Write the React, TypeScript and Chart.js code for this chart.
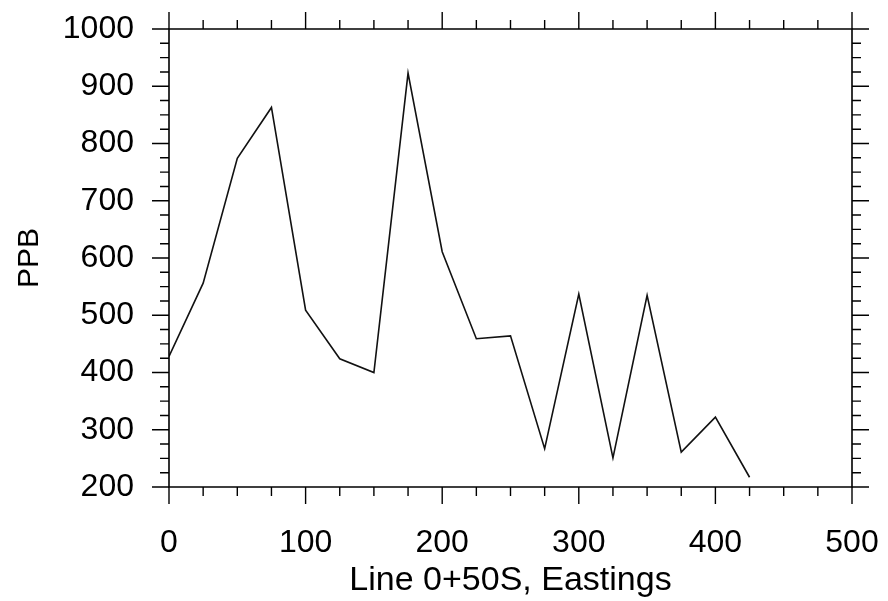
import React, { useEffect, useRef } from "react";
import { Chart, registerables } from "chart.js";

Chart.register(...registerables);

const eastings: number[] = [0, 25, 50, 75, 100, 125, 150, 175, 200, 225, 250, 275, 300, 325, 350, 375, 400, 425];
const ppb: number[] = [428, 556, 774, 863, 509, 424, 400, 923, 611, 459, 464, 267, 537, 251, 535, 261, 322, 217];

const xTitle = "Line 0+50S, Eastings";
const yTitle = "PPB";
const xMin = 0;
const xMax = 500;
const xMajor = 100;
const yMin = 200;
const yMax = 1000;
const yMajor = 100;
const minorStep = 25;

const FONT = "'Liberation Sans', Arial, Helvetica, sans-serif";

const frameTicks = {
  id: "frameTicks",
  afterDraw(chart: any) {
    const { ctx, chartArea } = chart;
    const xs = chart.scales.x;
    const ys = chart.scales.y;
    const { left, right, top, bottom } = chartArea;
    ctx.save();
    ctx.strokeStyle = "#000";
    ctx.lineWidth = 1.6;
    ctx.lineCap = "butt";
    ctx.beginPath();
    ctx.rect(left, top, right - left, bottom - top);
    ctx.stroke();
    ctx.lineWidth = 1.4;
    ctx.beginPath();
    for (let v = xMin; v <= xMax + 1e-9; v += minorStep) {
      const px = xs.getPixelForValue(v);
      const len = v % xMajor === 0 ? 17 : 9;
      ctx.moveTo(px, bottom);
      ctx.lineTo(px, bottom + len);
      ctx.moveTo(px, top);
      ctx.lineTo(px, top - len);
    }
    for (let v = yMin; v <= yMax + 1e-9; v += minorStep) {
      const py = ys.getPixelForValue(v);
      const len = v % yMajor === 0 ? 17 : 9;
      ctx.moveTo(left, py);
      ctx.lineTo(left - len, py);
      ctx.moveTo(right, py);
      ctx.lineTo(right + len, py);
    }
    ctx.stroke();
    ctx.restore();
  },
};

export default function App() {
  const ref = useRef<HTMLCanvasElement | null>(null);

  useEffect(() => {
    if (!ref.current) return;
    const data = eastings.map((e, i) => ({ x: e, y: ppb[i] }));
    const chart = new Chart(ref.current, {
      type: "line",
      data: {
        datasets: [
          {
            data,
            borderColor: "#111",
            borderWidth: 1.6,
            pointRadius: 0,
            tension: 0,
            fill: false,
          },
        ],
      },
      options: {
        responsive: false,
        devicePixelRatio: 1,
        animation: false,
        layout: { padding: { left: 0, right: 36, top: 29, bottom: 0 } },
        plugins: {
          legend: { display: false },
          tooltip: { enabled: false },
        },
        scales: {
          x: {
            type: "linear",
            min: xMin,
            max: xMax,
            grid: { display: false },
            border: { display: false },
            afterFit: (s: any) => {
              s.height = 114;
              s.paddingLeft = 0;
              s.paddingRight = 0;
            },
            ticks: {
              stepSize: xMajor,
              color: "#000",
              padding: 29,
              maxRotation: 0,
              font: { family: FONT, size: 32 },
              callback: (v: any) => String(v),
            },
            title: {
              display: true,
              text: xTitle,
              color: "#000",
              font: { family: FONT, size: 34 },
              padding: { top: 8, bottom: 0 },
            },
          },
          y: {
            type: "linear",
            min: yMin,
            max: yMax,
            grid: { display: false },
            border: { display: false },
            afterFit: (s: any) => {
              s.width = 169;
              s.paddingTop = 0;
              s.paddingBottom = 0;
            },
            ticks: {
              stepSize: yMajor,
              color: "#000",
              padding: 27,
              font: { family: FONT, size: 32 },
              callback: (v: any) => String(v),
            },
            title: {
              display: true,
              text: yTitle,
              color: "#000",
              font: { family: FONT, size: 30 },
              padding: { top: 11.5, bottom: 22 },
            },
          },
        },
      },
      plugins: [frameTicks],
    });
    return () => chart.destroy();
  }, []);

  return (
    <div style={{ position: "absolute", left: 0, top: 0, width: 888, height: 601, background: "#fff" }}>
      <canvas ref={ref} width={888} height={601} />
    </div>
  );
}
